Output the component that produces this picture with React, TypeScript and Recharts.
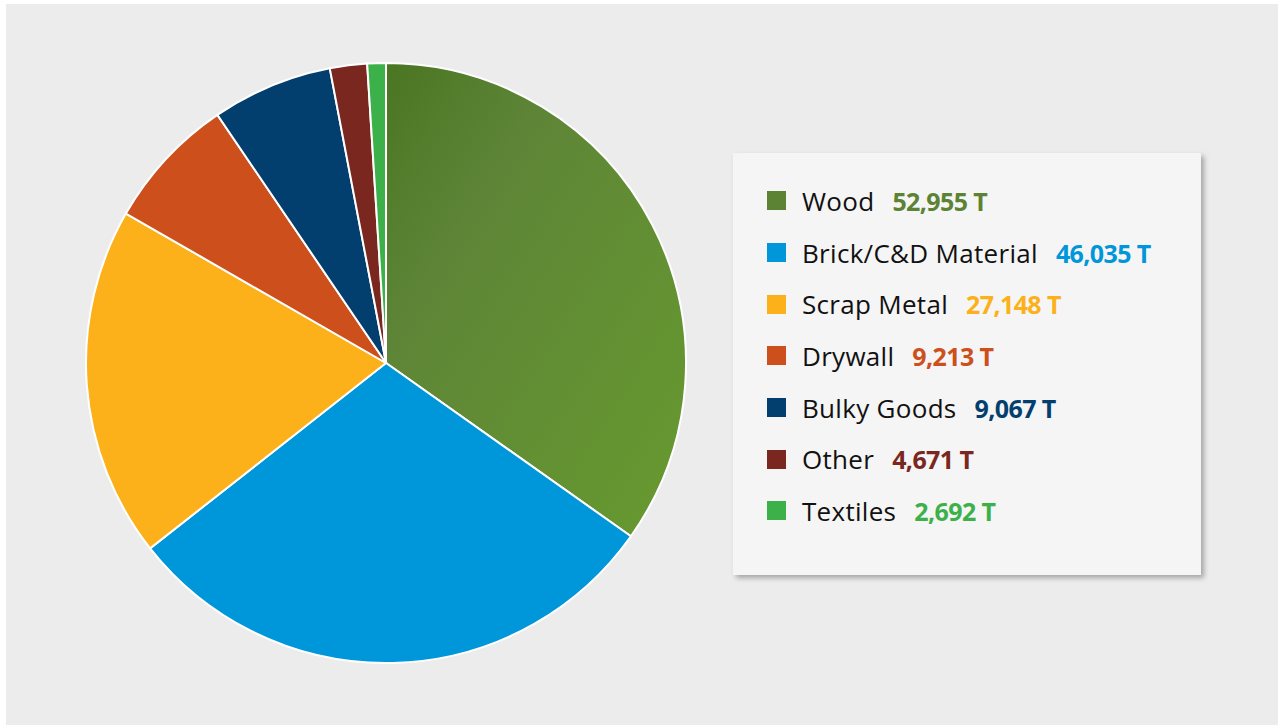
import { PieChart, Pie, Cell, Legend } from 'recharts';

const categories = ['Wood', 'Brick/C&D Material', 'Scrap Metal', 'Drywall', 'Bulky Goods', 'Other', 'Textiles'];
// tonnes shown in the legend
const tonnes = [52955, 46035, 27148, 9213, 9067, 4671, 2692];
// slice sizes as drawn in the picture (percent of the circle)
const sliceShare = [34.8, 29.6, 18.9, 7.2, 6.5, 2.0, 1.0];
const colors = ['#5c8234', '#0096da', '#fcb019', '#cc4f1c', '#033f6e', '#7a2720', '#3cb14a'];

const data = categories.map((name, i) => ({ name, value: sliceShare[i], tonnes: tonnes[i] }));

const FONT = '"Open Sans", sans-serif';

// custom legend box with name + bold value
function LegendBox() {
  return (
    <div
      style={{
        width: 468,
        height: 422,
        background: '#f5f5f5',
        boxShadow: '3px 3px 5px rgba(0,0,0,0.3)',
        boxSizing: 'border-box',
        paddingTop: 22,
        paddingLeft: 34,
        fontFamily: FONT,
      }}
    >
      {data.map((d, i) => (
        <div key={d.name} style={{ display: 'flex', alignItems: 'center', height: 51.7 }}>
          <span style={{ width: 19, height: 19, background: colors[i], marginRight: 16, flexShrink: 0 }} />
          <span style={{ fontSize: 26, color: '#111', marginRight: 18, letterSpacing: 0.3 }}>{d.name}</span>
          <span style={{ fontSize: 25, fontWeight: 700, color: colors[i], letterSpacing: -0.6 }}>
            {d.tonnes.toLocaleString('en-US')} T
          </span>
        </div>
      ))}
    </div>
  );
}

export default function App() {
  return (
    <div style={{ position: 'relative', width: 1278, height: 725, background: '#fff' }}>
      <style>{`body{margin:0}`}</style>
      <div style={{ position: 'absolute', left: 6, top: 4, width: 1272, height: 721, background: '#ececec' }}>
        <PieChart width={1272} height={721}>
          <defs>
            <linearGradient id="woodGrad" x1="0" y1="0" x2="1" y2="1">
              <stop offset="0%" stopColor="#4a7522" />
              <stop offset="30%" stopColor="#5e8537" />
              <stop offset="100%" stopColor="#679a2f" />
            </linearGradient>
          </defs>
          <Pie
            data={data}
            dataKey="value"
            nameKey="name"
            cx={375}
            cy={354}
            outerRadius={300}
            startAngle={90}
            endAngle={-270}
            stroke="#ffffff"
            strokeWidth={2}
            isAnimationActive={false}
          >
            {data.map((d, i) => (
              <Cell key={d.name} fill={i === 0 ? 'url(#woodGrad)' : colors[i]} />
            ))}
          </Pie>
          <Legend
            content={() => <LegendBox />}
            wrapperStyle={{ left: 727, top: 149, width: 468, height: 422 }}
          />
        </PieChart>
      </div>
    </div>
  );
}
